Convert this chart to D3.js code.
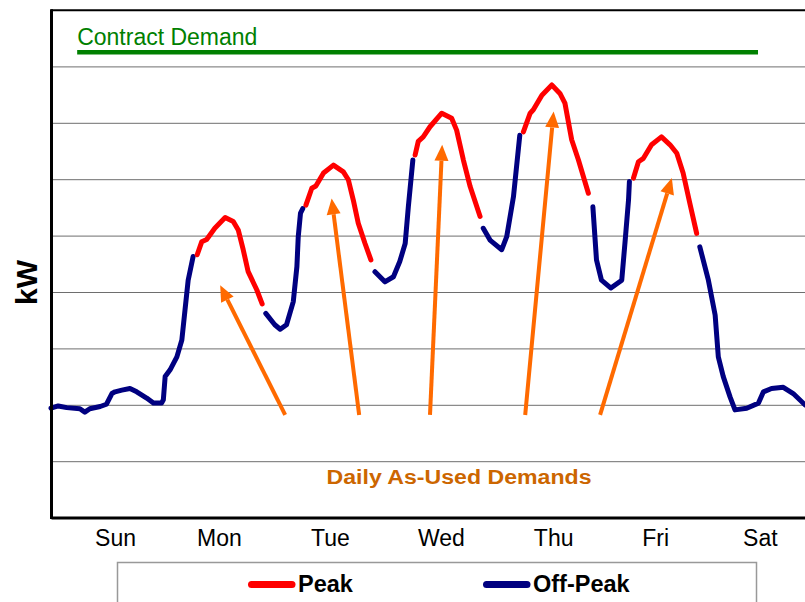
<!DOCTYPE html>
<html>
<head>
<meta charset="utf-8">
<script src="https://cdn.jsdelivr.net/npm/d3@7"></script>
<style>
  html, body { margin: 0; padding: 0; background: #fff; }
  svg { display: block; font-family: "Liberation Sans", Arial, sans-serif; }
</style>
</head>
<body>
<div id="chart"></div>
<script>
// week of interval demand, hours from Sunday 00:00
const days = ["Sun", "Mon", "Tue", "Wed", "Thu", "Fri", "Sat"];
const dayLabelHours = [14.2, 37.2, 61.8, 86.4, 111.3, 133.9, 157.1];

const hours = [
  0, 1.6, 3.5, 6.4, 7.5, 8.6, 10.9, 12.3, 13.5, 14.2, 15.7, 17.5, 19.0, 21.2, 22.7, 24.5, 24.9,
  25.3, 26.4, 27.9, 29.0, 29.7, 30.4, 31.5,
  32.4, 33.4, 34.5, 36.3, 38.6, 40.4, 41.5, 42.6, 43.7, 45.6, 46.8,
  47.6, 49.6, 50.8, 52.2, 53.7, 54.5, 54.8, 55.3, 55.8,
  56.5, 57.8, 58.7, 60.4, 62.6, 64.8, 65.9, 67.0, 68.1, 69.6, 70.9,
  71.8, 74.0, 75.9, 77.3, 78.5, 79.2, 80.2,
  80.7, 81.4, 82.5, 84.0, 86.6, 88.8, 89.9, 91.4, 92.9, 95.1,
  95.8, 97.3, 99.9, 101.0, 102.5, 103.9,
  104.7, 106.2, 106.9, 108.8, 111.0, 112.8, 113.9, 115.4, 116.9, 119.1,
  120.1, 120.9, 122.0, 124.1, 126.5, 127.2, 128.0, 128.2,
  129.1, 130.2, 131.3, 133.1, 135.3, 137.2, 138.7, 140.1, 141.6, 143.1,
  143.8, 145.7, 147.2, 147.9, 149.0, 150.5, 151.6, 154.2, 156.8, 157.9, 159.7, 162.3, 164.5, 167.1, 168
];
const demandKw = [
  194, 198, 195, 193, 187, 193, 197, 201, 220, 223, 226, 229, 223, 212, 203, 203, 209,
  250, 262, 285, 315, 368, 421, 463,
  466, 489, 493, 513, 532, 525, 510, 475, 436, 404, 379,
  362, 342, 334, 342, 383, 445, 498, 540, 548,
  554, 584, 588, 611, 625, 613, 599, 563, 522, 486, 457,
  436, 418, 427, 454, 486, 551, 634,
  643, 667, 675, 693, 717, 708, 687, 634, 587, 534,
  513, 492, 475, 498, 569, 678,
  684, 717, 723, 749, 767, 752, 735, 670, 634, 575,
  551, 457, 421, 407, 421, 486, 563, 596,
  602, 631, 637, 661, 675, 661, 646, 611, 557, 504,
  480, 421, 359, 285, 250, 214, 191, 194, 203, 223, 229, 231, 220, 200, 196
];

const peakWindow = [8.3, 23.3];   // weekday hours counted as peak
const contractKw = 825;
const contractSpan = [5.8, 156.7];

// annotation arrows: [hour, kW]
const arrowTails = [[51.9, 182], [68.3, 182], [84.0, 182], [105.1, 182], [121.7, 182]];
const arrowTips = [[37.5, 412], [62.2, 566], [86.7, 661], [111.4, 720], [137.6, 602]];

const w = 805;
const h = 602;
const plotLeft = 51, plotRight = 809, plotTop = 10, plotBottom = 517.6;

const data = hours.map((hr, i) => ({ hr: hr, kw: demandKw[i] }));
function isPeak(d) {
    const day = Math.floor(d.hr / 24);
    const hod = d.hr - day * 24;
    return day >= 1 && day <= 5 && hod >= peakWindow[0] && hod < peakWindow[1];
}

const xScale = d3.scaleLinear().domain([0, 168]).range([plotLeft, plotRight]);
const yScale = d3.scaleLinear().domain([0, 900]).range([plotBottom, plotTop]);

const svg = d3.select("#chart")
    .append("svg")
    .attr("width", w)
    .attr("height", h)
    .style("background-color", "#fff");

// gridlines
svg.append("g")
    .attr("transform", "translate(" + plotLeft + ",0)")
    .call(d3.axisLeft(yScale).tickValues(d3.range(100, 900, 100)).tickSize(-(plotRight - plotLeft)).tickFormat(""))
    .call(g => g.select(".domain").remove())
    .selectAll("line")
    .attr("stroke", "#6e6e6e")
    .attr("stroke-width", 1);

// contract demand
svg.append("line")
    .attr("x1", xScale(contractSpan[0]))
    .attr("x2", xScale(contractSpan[1]))
    .attr("y1", yScale(contractKw))
    .attr("y2", yScale(contractKw))
    .attr("stroke", "#008000")
    .attr("stroke-width", 4.5);
svg.append("text")
    .text("Contract Demand")
    .attr("x", xScale(contractSpan[0]))
    .attr("y", 45)
    .attr("fill", "#008000")
    .style("font-size", "23px");

// demand lines
const peakLine = d3.line().defined(d => isPeak(d)).x(d => xScale(d.hr)).y(d => yScale(d.kw));
const offLine = d3.line().defined(d => !isPeak(d)).x(d => xScale(d.hr)).y(d => yScale(d.kw));

svg.append("path")
    .datum(data)
    .attr("d", offLine)
    .attr("fill", "none")
    .attr("stroke", "#000080")
    .attr("stroke-width", 5)
    .attr("stroke-linecap", "round")
    .attr("stroke-linejoin", "round");
svg.append("path")
    .datum(data)
    .attr("d", peakLine)
    .attr("fill", "none")
    .attr("stroke", "#ff0000")
    .attr("stroke-width", 5)
    .attr("stroke-linecap", "round")
    .attr("stroke-linejoin", "round");

// arrows
const orange = "#ff6a00";
arrowTails.forEach((t, i) => {
    const x1 = xScale(t[0]), y1 = yScale(t[1]);
    const x2 = xScale(arrowTips[i][0]), y2 = yScale(arrowTips[i][1]);
    const a = Math.atan2(y2 - y1, x2 - x1);
    const len = 16, half = 7;
    const bx = x2 - len * Math.cos(a), by = y2 - len * Math.sin(a);
    svg.append("line")
        .attr("x1", x1).attr("y1", y1)
        .attr("x2", bx).attr("y2", by)
        .attr("stroke", orange)
        .attr("stroke-width", 4);
    const pts = [
        [x2, y2],
        [bx + half * Math.sin(a), by - half * Math.cos(a)],
        [bx - half * Math.sin(a), by + half * Math.cos(a)]
    ];
    svg.append("polygon")
        .attr("points", pts.map(p => p.join(",")).join(" "))
        .attr("fill", orange);
});

svg.append("text")
    .text("Daily As-Used Demands")
    .attr("x", 459)
    .attr("y", 483.5)
    .attr("text-anchor", "middle")
    .attr("fill", "#cc6600")
    .attr("textLength", 265)
    .attr("lengthAdjust", "spacingAndGlyphs")
    .style("font-size", "20px")
    .style("font-weight", "bold");

// frame
svg.append("line")
    .attr("x1", plotLeft).attr("x2", plotRight)
    .attr("y1", plotTop + 0.3).attr("y2", plotTop + 0.3)
    .attr("stroke", "#000").attr("stroke-width", 2);
svg.append("line")
    .attr("x1", plotLeft + 0.5).attr("x2", plotLeft + 0.5)
    .attr("y1", plotTop - 0.7).attr("y2", plotBottom + 1.5)
    .attr("stroke", "#000").attr("stroke-width", 3);

const xAxis = d3.axisBottom(xScale)
    .tickValues(dayLabelHours)
    .tickFormat((d, i) => days[i])
    .tickSize(0)
    .tickSizeOuter(0);
svg.append("g")
    .attr("id", "x-axis")
    .attr("transform", "translate(0," + plotBottom + ")")
    .call(xAxis)
    .call(g => g.select(".domain").attr("stroke", "#000").attr("stroke-width", 3))
    .selectAll("text")
    .attr("y", 28.4)
    .attr("dy", 0)
    .attr("fill", "#000")
    .style("font-size", "23px")
    .style("font-family", "\"Liberation Sans\", Arial, sans-serif");

// y title
svg.append("text")
    .text("kW")
    .attr("transform", "translate(36.5,282.5) rotate(-90)")
    .attr("text-anchor", "middle")
    .style("font-size", "30px")
    .style("font-weight", "bold");

// legend
const legend = svg.append("g").attr("id", "legend");
legend.append("rect")
    .attr("x", 117.5).attr("y", 562.5)
    .attr("width", 639).attr("height", 60)
    .attr("fill", "#fff")
    .attr("stroke", "#999")
    .attr("stroke-width", 1.5);
const legendItems = [
    { name: "Peak", color: "#ff0000", x: 248 },
    { name: "Off-Peak", color: "#000080", x: 483 }
];
legendItems.forEach(it => {
    legend.append("line")
        .attr("x1", it.x + 3.5).attr("x2", it.x + 44)
        .attr("y1", 584.5).attr("y2", 584.5)
        .attr("stroke", it.color)
        .attr("stroke-width", 7)
        .attr("stroke-linecap", "round");
    legend.append("text")
        .text(it.name)
        .attr("x", it.x + 50)
        .attr("y", 591.5)
        .style("font-size", "23.5px")
        .style("font-weight", "bold");
});
</script>
</body>
</html>
